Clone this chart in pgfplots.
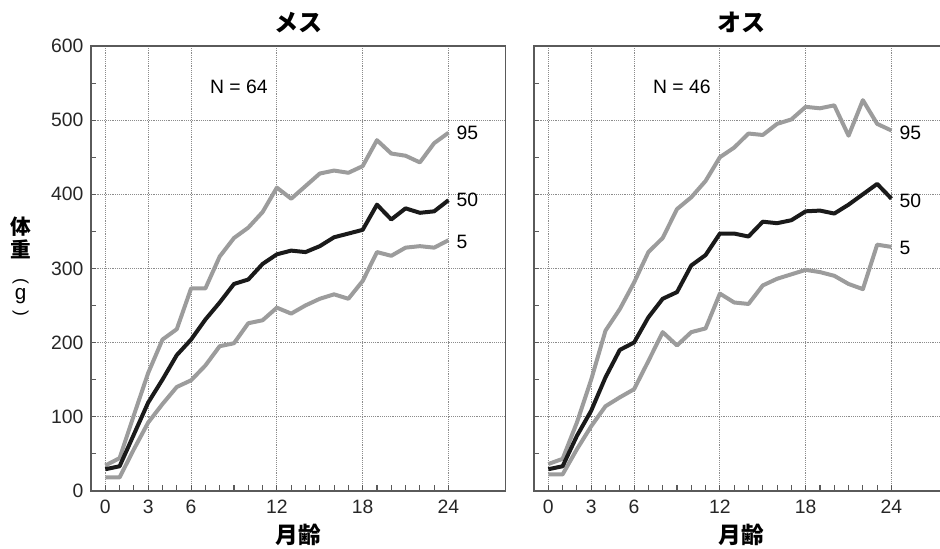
\documentclass[border=0pt]{standalone}
\usepackage{fontspec}
\setmainfont{Liberation Sans}
\newfontfamily\jp{Noto Sans CJK JP}
\usepackage{pgfplots}
\pgfplotsset{compat=1.18}
\definecolor{lg}{HTML}{9C9C9C}
\definecolor{dk}{HTML}{1A1A1A}
\definecolor{axc}{HTML}{5A5A5A}
\definecolor{gridc}{HTML}{8C8C8C}
\pgfplotsset{panel/.style={
  scale only axis, width=311pt, height=333.5pt,
  xmin=-1, xmax=28, ymin=0, ymax=600,
  xtick={0,3,6,12,18,24},
  minor xtick={1,2,4,5,7,8,9,10,11,13,14,15,16,17,19,20,21,22,23},
  ytick={0,100,...,600}, minor ytick={50,150,...,550},
  grid=major, major grid style={densely dotted, gridc, line width=0.6pt},
  tick align=inside, xtick pos=left, ytick pos=left,
  major tick length=4pt, minor tick length=4pt,
  every tick/.style={axc, line width=0.8pt},
  axis line style={axc, line width=1.2pt},
  /pgf/number format/assume math mode=true,
  tick label style={font=\fontsize{14.5}{14.5}\selectfont, text=black!85},
  xticklabel style={yshift=-3.4pt},
  yticklabel style={xshift=-2.2pt},
  clip=false,
  every axis plot/.append style={line width=3pt, line join=round},
}}
\begin{document}
\begin{tikzpicture}
\begin{axis}[panel, at={(68.25pt,43.7pt)}, anchor=south west]
\addplot[lg] coordinates {(0,34)(1,44)(2,102)(3,159)(4,204)(5,218)(6,273)(7,273)(8,316)(9,341)(10,355)(11,376)(12,409)(13,394)(14,411)(15,428)(16,432)(17,429)(18,438)(19,473)(20,455)(21,452)(22,443)(23,469)(24,483)};
\addplot[lg] coordinates {(0,18)(1,18)(2,56)(3,92)(4,117)(5,140)(6,149)(7,169)(8,195)(9,199)(10,226)(11,230)(12,247)(13,239)(14,250)(15,259)(16,265)(17,259)(18,283)(19,322)(20,317)(21,328)(22,330)(23,328)(24,338)};
\addplot[dk] coordinates {(0,29)(1,33)(2,76)(3,119)(4,150)(5,183)(6,204)(7,231)(8,254)(9,279)(10,285)(11,306)(12,319)(13,324)(14,322)(15,330)(16,342)(17,347)(18,352)(19,386)(20,366)(21,381)(22,375)(23,377)(24,392)};
\node[anchor=west, font=\fontsize{14.5}{14.5}\selectfont] at (axis cs:7,545) {N = 64};
\node[anchor=west, xshift=2.5pt, font=\fontsize{14.5}{14.5}\selectfont] at (axis cs:24,483) {95};
\node[anchor=west, xshift=2.5pt, font=\fontsize{14.5}{14.5}\selectfont] at (axis cs:24,392) {50};
\node[anchor=west, xshift=2.5pt, font=\fontsize{14.5}{14.5}\selectfont] at (axis cs:24,336) {5};
\node[font=\jp\bfseries\fontsize{18}{18}\selectfont] at (rel axis cs:0.5,1) [yshift=17.5pt] {メス};
\node[font=\jp\bfseries\fontsize{17}{17}\selectfont] at (rel axis cs:0.5,0) [yshift=-33pt] {月齢};
\end{axis}
\begin{axis}[panel, at={(400.5pt,43.7pt)}, anchor=south west, yticklabels={}]
\addplot[lg] coordinates {(0,36)(1,43)(2,92)(3,150)(4,216)(5,245)(6,281)(7,322)(8,341)(9,380)(10,396)(11,418)(12,450)(13,463)(14,482)(15,480)(16,495)(17,501)(18,518)(19,516)(20,520)(21,479)(22,527)(23,495)(24,486)};
\addplot[lg] coordinates {(0,22)(1,22)(2,56)(3,87)(4,114)(5,126)(6,137)(7,175)(8,214)(9,196)(10,214)(11,219)(12,266)(13,254)(14,252)(15,277)(16,286)(17,292)(18,298)(19,295)(20,290)(21,279)(22,272)(23,332)(24,329)};
\addplot[dk] coordinates {(0,29)(1,33)(2,74)(3,108)(4,153)(5,190)(6,200)(7,234)(8,259)(9,268)(10,304)(11,318)(12,347)(13,347)(14,343)(15,363)(16,361)(17,365)(18,377)(19,378)(20,374)(21,386)(22,400)(23,414)(24,394)};
\node[anchor=west, font=\fontsize{14.5}{14.5}\selectfont] at (axis cs:7,545) {N = 46};
\node[anchor=west, xshift=2.5pt, font=\fontsize{14.5}{14.5}\selectfont] at (axis cs:24,483) {95};
\node[anchor=west, xshift=2.5pt, font=\fontsize{14.5}{14.5}\selectfont] at (axis cs:24,391) {50};
\node[anchor=west, xshift=2.5pt, font=\fontsize{14.5}{14.5}\selectfont] at (axis cs:24,327) {5};
\node[font=\jp\bfseries\fontsize{18}{18}\selectfont] at (rel axis cs:0.5,1) [yshift=17.5pt] {オス};
\node[font=\jp\bfseries\fontsize{17}{17}\selectfont] at (rel axis cs:0.5,0) [yshift=-33pt] {月齢};
\end{axis}
\node[font=\jp\bfseries\fontsize{15.5}{15.5}\selectfont] at (15.5pt,241.5pt) {体};
\node[font=\jp\bfseries\fontsize{15.5}{15.5}\selectfont] at (15.5pt,224.5pt) {重};
\node[font=\fontsize{13}{13}\selectfont, rotate=-90, inner sep=0pt] at (15.5pt,201pt) {(};
\node[font=\fontsize{15.5}{15.5}\selectfont, inner sep=0pt] at (15.5pt,189.5pt) {g};
\node[font=\fontsize{13}{13}\selectfont, rotate=-90, inner sep=0pt] at (15.5pt,177pt) {)};
\pgfresetboundingbox
\useasboundingbox (0,0) rectangle (705pt,411.75pt);
\end{tikzpicture}
\end{document}
